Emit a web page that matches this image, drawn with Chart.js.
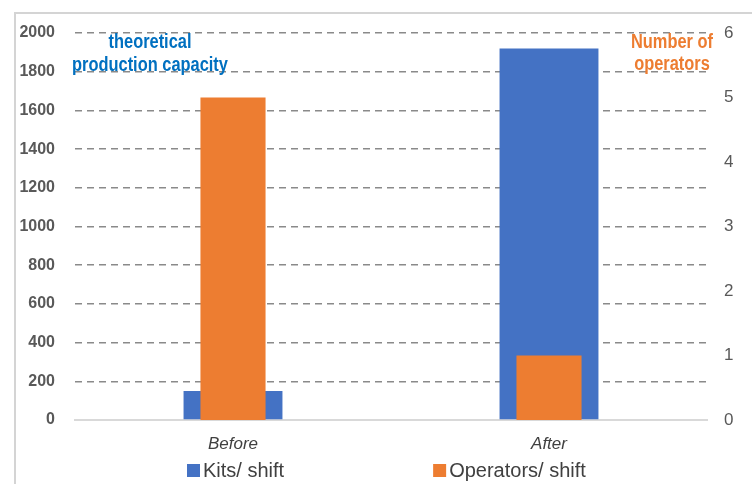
<!DOCTYPE html>
<html>
<head>
<meta charset="utf-8">
<script src="https://cdn.jsdelivr.net/npm/chart.js@4/dist/chart.umd.min.js"></script>
<style>
    html, body { margin: 0; padding: 0; background: #fff; }
    #wrap { position: relative; width: 752px; height: 484px; overflow: hidden; }
    #frame {
        position: absolute; left: 14px; top: 12px; width: 800px; height: 600px;
        border-left: 2px solid #d4d4d4; border-top: 2px solid #d4d4d4;
    }
    canvas { position: absolute; left: 0; top: 0; }
</style>
</head>
<body>
<div id="wrap">
    <div id="frame"></div>
    <canvas id="capacityChart" width="752" height="484"></canvas>
</div>
<script>
const categories = ['Before', 'After'];
const kitsPerShift = [150, 1920];
const operatorsPerShift = [5, 1];
const seriesNames = ['Kits/ shift', 'Operators/ shift'];

const BLUE = '#4472C4';
const ORANGE = '#ED7D31';
const sans = '"Liberation Sans", Arial, sans-serif';

// condensed bold text, squeezed horizontally around its centre
function narrowText(ctx, text, x, y) {
    ctx.save();
    ctx.translate(x, y);
    ctx.scale(0.82, 1);
    ctx.fillText(text, 0, 0);
    ctx.restore();
}

// axis titles and a legend drawn straight onto the canvas
const extras = {
    id: 'extras',
    afterDraw(chart) {
        const ctx = chart.ctx;
        ctx.save();
        ctx.textAlign = 'center';
        ctx.textBaseline = 'middle';
        ctx.font = 'bold 20px ' + sans;
        ctx.fillStyle = '#0070C0';
        narrowText(ctx, 'theoretical', 150, 42);
        narrowText(ctx, 'production capacity', 150, 65);
        ctx.fillStyle = ORANGE;
        narrowText(ctx, 'Number of', 672, 42);
        narrowText(ctx, 'operators', 672, 64);

        ctx.font = '20px ' + sans;
        ctx.textAlign = 'left';
        let x = 187;
        chart.data.datasets.forEach(ds => {
            ctx.fillStyle = ds.backgroundColor;
            ctx.fillRect(x, 464, 13, 13);
            ctx.fillStyle = '#404040';
            ctx.fillText(ds.label, x + 16, 471);
            x += 16 + ctx.measureText(ds.label).width + 149;
        });
        ctx.restore();
    }
};

new Chart(document.getElementById('capacityChart'), {
    type: 'bar',
    data: {
        labels: categories,
        datasets: [{
            label: seriesNames[0],
            data: kitsPerShift,
            backgroundColor: BLUE,
            yAxisID: 'y',
            grouped: false,
            order: 2,
            categoryPercentage: 1,
            barPercentage: 0.313
        }, {
            label: seriesNames[1],
            data: operatorsPerShift,
            backgroundColor: ORANGE,
            yAxisID: 'y1',
            grouped: false,
            order: 1,
            categoryPercentage: 1,
            barPercentage: 0.206
        }]
    },
    options: {
        responsive: false,
        animation: false,
        devicePixelRatio: 1,
        layout: { padding: { top: 33, left: 0, right: 0, bottom: 0 } },
        plugins: {
            legend: { display: false },
            tooltip: { enabled: false }
        },
        scales: {
            x: {
                offset: true,
                grid: { display: false },
                border: { display: true, color: '#d9d9d9', width: 2 },
                ticks: {
                    color: '#404040',
                    padding: 6,
                    font: { family: sans, size: 17, style: 'italic' }
                },
                afterFit: s => { s.height = 64; }
            },
            y: {
                position: 'left',
                min: 0,
                max: 2000,
                grid: {
                    drawTicks: false,
                    color: c => c.tick && c.tick.value === 0 ? 'rgba(0,0,0,0)' : '#8a8a8a',
                    lineWidth: 1.5
                },
                border: { display: false, dash: [7, 5] },
                ticks: {
                    stepSize: 200,
                    color: '#595959',
                    padding: 20,
                    callback: v => String(v),
                    font: { family: sans, size: 16, weight: 'bold' }
                },
                afterFit: s => { s.width = 75; }
            },
            y1: {
                position: 'right',
                min: 0,
                max: 6,
                grid: { display: false, drawTicks: false },
                border: { display: false },
                ticks: {
                    stepSize: 1,
                    color: '#595959',
                    padding: 17,
                    font: { family: sans, size: 17 }
                },
                afterFit: s => { s.width = 45; }
            }
        }
    },
    plugins: [extras]
});
</script>
</body>
</html>
